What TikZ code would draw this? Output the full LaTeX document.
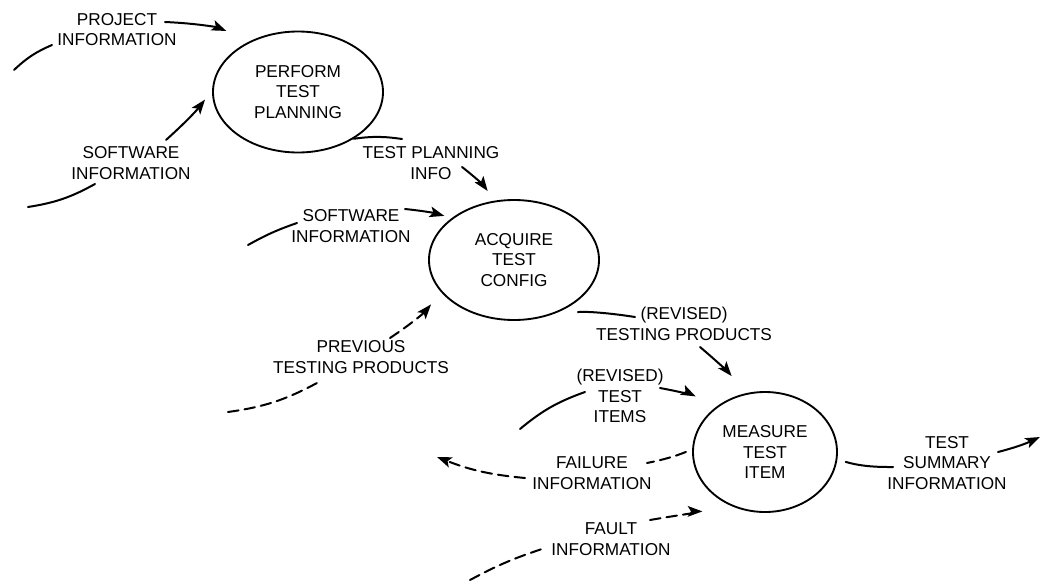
\documentclass[tikz,border=0pt]{standalone}
\usepackage{fontspec}
\setmainfont{Liberation Sans}
\usetikzlibrary{shapes.geometric,arrows.meta,calc}
\tikzset{
  process/.style={draw,ellipse,line width=1.4pt,inner sep=0pt,align=center},
  flowname/.style={inner sep=0pt,align=center},
  flow/.style={line width=1.5pt,line cap=round},
  arrowed/.style={-{Stealth[length=11pt,width=8pt,inset=2.5pt]}},
  dataflow/.style={dash pattern=on 8pt off 4.5pt}
}
\newcommand{\process}[6]{\node[process,minimum width=#5,minimum height=#6] (#1) at (#2,#3) {#4};}
\newcommand{\flowname}[4]{\node[flowname] (#1) at (#2,#3) {#4};}

\begin{document}
\begin{tikzpicture}[x=0.75pt,y=0.75pt,font=\fontsize{12.9}{15.6}\selectfont]
    \useasboundingbox (0,0) rectangle (1042,-582);
    % processes
    \process{perform}{298}{-92}{PERFORM\\TEST\\PLANNING}{127.5pt}{90.75pt}
    \process{acquire}{514}{-260}{ACQUIRE\\TEST\\CONFIG}{127.5pt}{90pt}
    \process{measure}{765}{-452}{MEASURE\\TEST\\ITEM}{108pt}{90pt}
    % data names
    \flowname{pj}{117}{-29.5}{PROJECT\\INFORMATION}    \flowname{swa}{131}{-163}{SOFTWARE\\INFORMATION}
    \flowname{tp}{431}{-163}{TEST PLANNING\\INFO}    \flowname{swb}{351}{-226}{SOFTWARE\\INFORMATION}
    \flowname{prev}{361}{-357}{PREVIOUS\\TESTING PRODUCTS}    \flowname{revtp}{684}{-324}{(REVISED)\\TESTING PRODUCTS}
    \flowname{revti}{620}{-396}{(REVISED)\\TEST\\ITEMS}    \flowname{fail}{592}{-473}{FAILURE\\INFORMATION}
    \flowname{summ}{947}{-463}{TEST\\SUMMARY\\INFORMATION}    \flowname{fault}{611}{-539}{FAULT\\INFORMATION}
    % loose ends
    \coordinate (pjtail) at (14,-70);    \coordinate (swatail) at (28,-207);
    \coordinate (swbtail) at (248,-245);    \coordinate (prevtail) at (228,-412);
    \coordinate (revtitail) at (520,-429);    \coordinate (failout) at (437,-457);
    \coordinate (summout) at (1040,-437);    \coordinate (faulttail) at (470,-580);
    % flows
    \draw[flow] (pjtail) to[bend left=10] ($(pj)+(-65,-15.5)$);
    \draw[flow,arrowed,shorten >=19.5pt] ($(pj)+(48,7.5)$) to[bend left=10] (perform.133);
    \draw[flow] (swatail) to[bend right=10] ($(swa)+(-36,-21)$);
    \draw[flow,arrowed,shorten >=8.6pt] ($(swa)+(35,23)$) to[bend right=5] (perform.179);
    \draw[flow] (perform.-40) to[bend left=8] ($(tp)+(-29,24)$);
    \draw[flow,arrowed,shorten >=8.9pt] ($(tp)+(31,-4)$) to[bend left=8] (acquire.108);
    \draw[flow] (swbtail) to[bend left=5] ($(swb)+(-54,3)$);
    \draw[flow,arrowed,shorten >=5.8pt] ($(swb)+(54,17)$) to[bend left=5] (acquire.146);
    \draw[flow,dataflow] (prevtail) to[bend right=10] ($(prev)+(-44,-26)$);
    \draw[flow,dataflow,arrowed,shorten >=11.8pt] ($(prev)+(29,19)$) to[bend right=8] (acquire.204);
    \draw[flow,shorten <=22pt] (acquire.-58) to[bend left=8] ($(revtp)+(-49,7)$);
    \draw[flow,arrowed,shorten >=16.7pt] ($(revtp)+(16,-23)$) to[bend left=5] (measure.108);
    \draw[flow] (revtitail) to[bend left=10] ($(revti)+(-35,4)$);
    \draw[flow,arrowed,shorten >=17.3pt] ($(revti)+(40,8)$) to[bend left=8] (measure.137);
    \draw[flow,dataflow,shorten <=5pt] (measure.178) to[bend left=5] ($(fail)+(55,10)$);
    \draw[flow,dataflow,arrowed] ($(fail)+(-67,-5)$) to[bend left=8] (failout);
    \draw[flow,shorten <=6.5pt] (measure.-6) to[bend right=8] ($(summ)+(-54,-4)$);
    \draw[flow,arrowed] ($(summ)+(51,11)$) to[bend right=5] (summout);
    \draw[flow,dataflow] (faulttail) to[bend left=5] ($(fault)+(-69,-10)$);
    \draw[flow,dataflow,arrowed,shorten >=35pt] ($(fault)+(39,19)$) to[bend left=5] (measure.255);
\end{tikzpicture}
\end{document}
